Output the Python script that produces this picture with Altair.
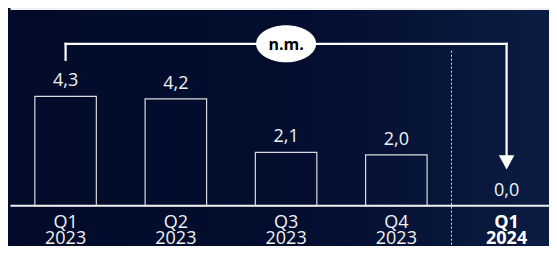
import altair as alt
import pandas as pd

# ---- data ----
quarters = ["Q1", "Q2", "Q3", "Q4", "Q1"]
years = ["2023", "2023", "2023", "2023", "2024"]
values = [4.3, 4.2, 2.1, 2.0, 0.0]
highlight = [False, False, False, False, True]
note_text = "n.m."

df = pd.DataFrame({
    "idx": list(range(len(values))),
    "value": values,
    "label": [f"{v:.1f}".replace(".", ",") for v in values],
    "quarter": quarters,
    "year": years,
    "bold": highlight,
})

# ---- layout ----
W, H = 541, 238
BG = "#020b2a"
FG = "#f2f2f2"
FONT = "Open Sans"
xs = alt.Scale(domain=[-0.5224, 4.3846], nice=False, zero=False, padding=0)
ys = alt.Scale(domain=[-1.587, 7.78], nice=False, zero=False, padding=0)

top_y = 7.74
bracket_y = max(values) + 2.07
bracket_end = max(values) + 1.44
first, last = 0, len(values) - 1
arrow_top = 2.0
arrow_mid = 1.70
divider_x = last - 0.5

segs = pd.DataFrame([
    {"x": -0.5, "x2": 4.6, "y": top_y, "y2": top_y, "kind": "frame"},
    {"x": -0.5, "x2": 4.6, "y": 0.0, "y2": 0.0, "kind": "frame"},
    {"x": first, "x2": first, "y": bracket_end, "y2": bracket_y, "kind": "bracket"},
    {"x": first, "x2": last, "y": bracket_y, "y2": bracket_y, "kind": "bracket"},
    {"x": last, "x2": last, "y": bracket_y, "y2": arrow_top, "kind": "bracket"},
])
divider = pd.DataFrame([{"x": divider_x, "y": 6.10, "y2": -1.7}])
marks = pd.DataFrame([{"x": last, "y": arrow_mid}])
note = pd.DataFrame([{"x": (first + last) / 2, "y": bracket_y, "text": note_text}])


def X(field="x"):
    return alt.X(f"{field}:Q", scale=xs, axis=None)


def Y(field="y"):
    return alt.Y(f"{field}:Q", scale=ys, axis=None)


bg = alt.Chart(pd.DataFrame({"a": [0]})).mark_rect(
    fill=alt.LinearGradient(
        gradient="linear",
        stops=[
            alt.GradientStop(color="#020b29", offset=0),
            alt.GradientStop(color="#030e30", offset=0.55),
            alt.GradientStop(color="#0b1c42", offset=1),
        ],
        x1=0, x2=1, y1=0, y2=0,
    )
).encode(x=alt.value(0), x2=alt.value(W), y=alt.value(0), y2=alt.value(H))

div_layer = alt.Chart(divider).mark_rule(
    color="#e8e8e8", strokeWidth=1, strokeDash=[2, 2]
).encode(x=X("x"), y=Y("y"), y2="y2:Q")

bars = alt.Chart(df).transform_filter("datum.value > 0").mark_bar(
    fill=BG, fillOpacity=0, stroke="#dcdcdc", strokeWidth=1.2, size=61.5
).encode(x=X("idx"), y=Y("value"), y2=alt.datum(0))

frame = alt.Chart(segs).transform_filter("datum.kind == 'frame'").mark_rule(
    color="#f0f0f0", strokeWidth=2
).encode(x=X("x"), x2="x2:Q", y=Y("y"), y2="y2:Q")

bracket = alt.Chart(segs).transform_filter("datum.kind == 'bracket'").mark_rule(
    color="#ffffff", strokeWidth=2.2, strokeCap="square"
).encode(x=X("x"), x2="x2:Q", y=Y("y"), y2="y2:Q")

arrow = alt.Chart(marks).mark_point(
    shape="M -1 -0.92 L 1 -0.92 L 0 0.92 Z", size=240, filled=True,
    fill="#ffffff", opacity=1
).encode(x=X("x"), y=Y("y"))

ellipse = alt.Chart(note).mark_point(
    shape="M -1 0 A 1 0.617 0 1 0 1 0 A 1 0.617 0 1 0 -1 0 Z", size=3600,
    filled=True, fill="#ffffff", opacity=1
).encode(x=X("x"), y=Y("y"))

note_txt = alt.Chart(note).mark_text(
    font=FONT, fontSize=16, fontWeight="bold", color="#000000",
    baseline="middle", align="center", dy=1
).encode(x=X("x"), y=Y("y"), text="text:N")

val_txt = alt.Chart(df).mark_text(
    font=FONT, fontSize=18, color=FG, baseline="alphabetic", align="center", dy=-10
).encode(x=X("idx"), y=Y("value"), text="label:N")


def cat_layer(field, dy, bold):
    return alt.Chart(df).transform_filter(
        "datum.bold" if bold else "!datum.bold"
    ).mark_text(
        font=FONT, fontSize=18, fontWeight="bold" if bold else "normal",
        color="#ffffff" if bold else FG, baseline="alphabetic", align="center", dy=dy
    ).encode(x=X("idx"), y=alt.Y(datum=0, scale=ys, axis=None), text=f"{field}:N")


chart = alt.layer(
    bg, div_layer, bars, frame, bracket, arrow, ellipse, note_txt, val_txt,
    cat_layer("quarter", 22, False), cat_layer("year", 38.5, False),
    cat_layer("quarter", 22, True), cat_layer("year", 38.5, True),
).properties(
    width=W, height=H,
    autosize=alt.AutoSizeParams(type="none"),
    padding=0,
    background=BG,
).configure_view(stroke=None)

chart.save("out.html", embed_options={"renderer": "svg", "actions": False})
